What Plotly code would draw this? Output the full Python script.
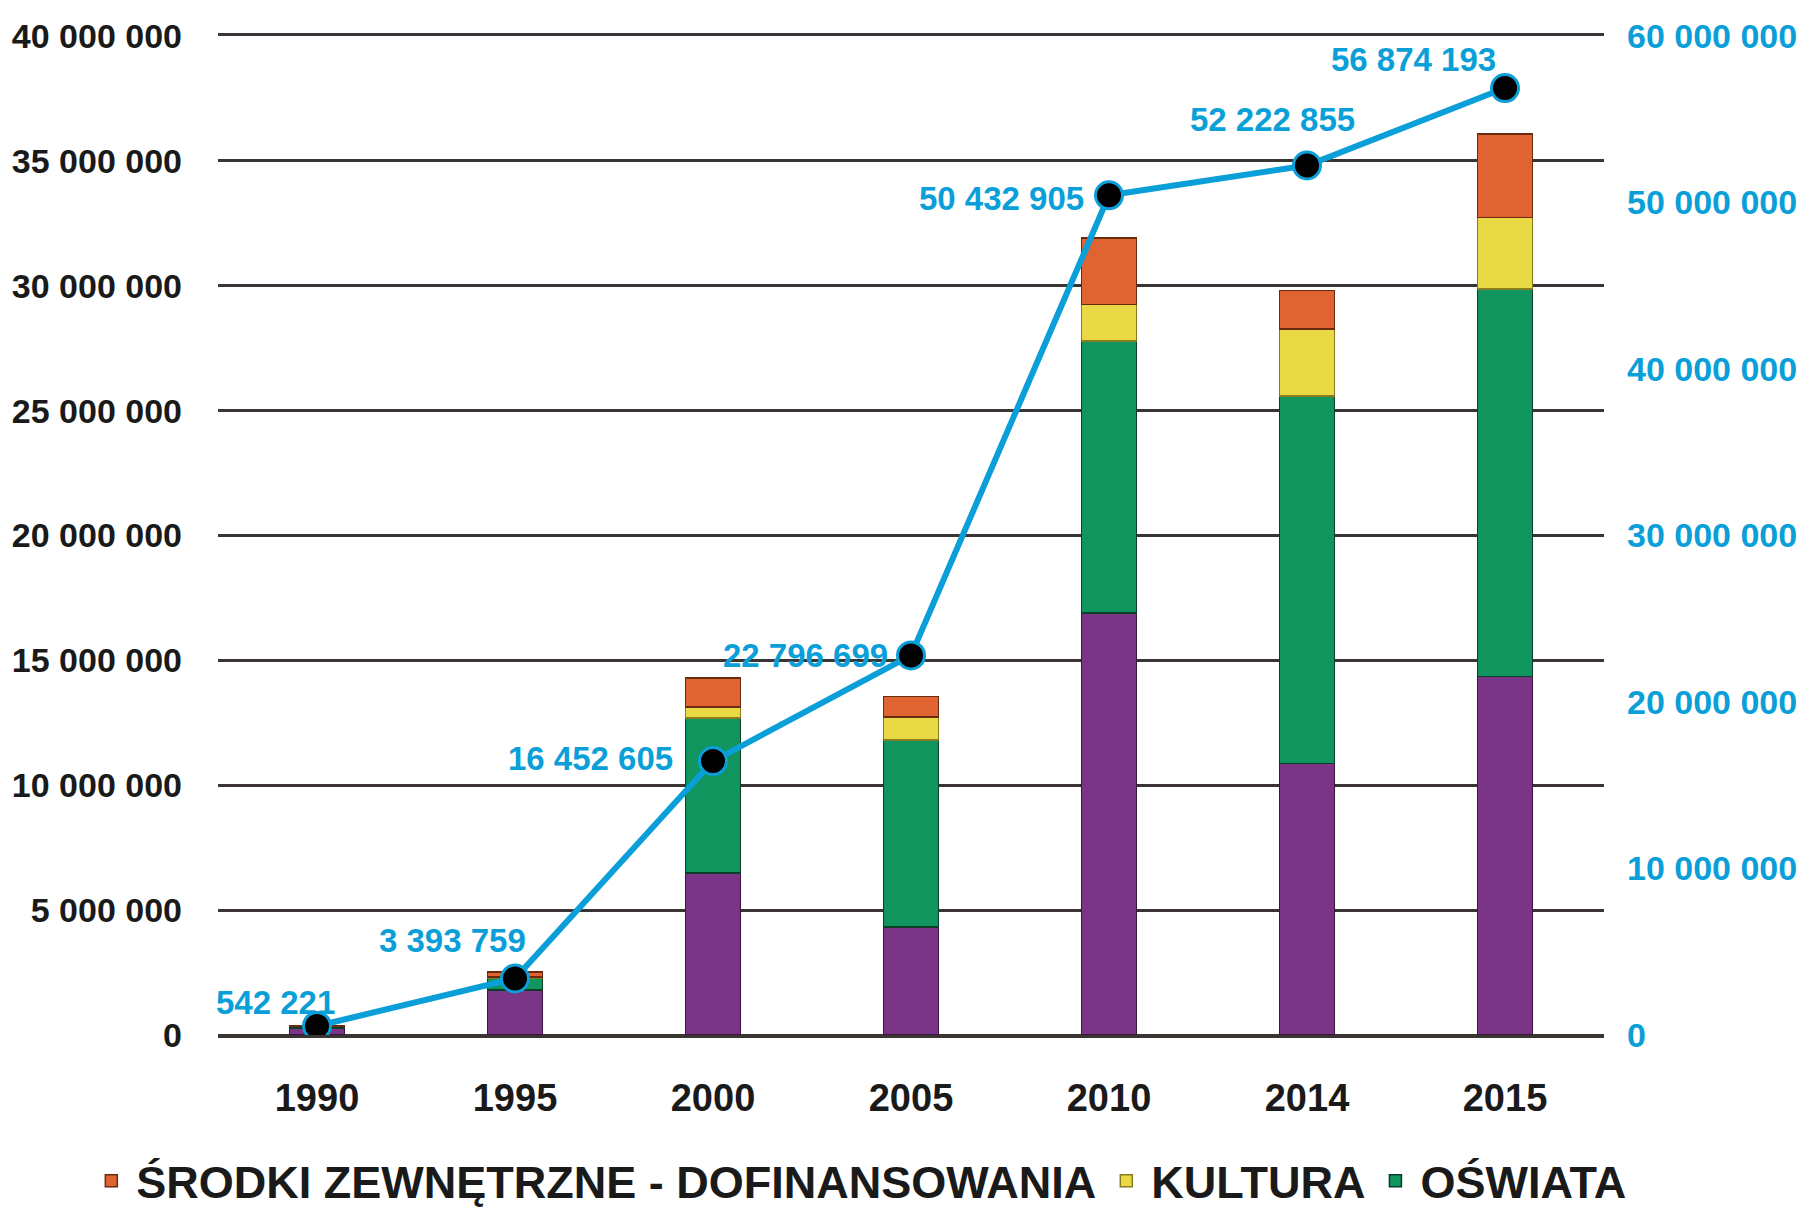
import plotly.graph_objects as go

# ---------------- data ----------------
years = ["1990", "1995", "2000", "2005", "2010", "2014", "2015"]
purple_vals = [280000, 1800000, 6490000, 4320000, 16900000, 10870000, 14360000]
oswiata_vals = [60000, 480000, 6200000, 7490000, 10890000, 14720000, 15510000]
kultura_vals = [10000, 50000, 440000, 920000, 1460000, 2670000, 2870000]
srodki_vals = [10000, 200000, 1170000, 820000, 2670000, 1550000, 3340000]
line_vals = [542221, 3393759, 16452605, 22796699, 50432905, 52222855, 56874193]
line_labels = ["542 221", "3 393 759", "16 452 605", "22 796 699",
               "50 432 905", "52 222 855", "56 874 193"]
label_dx = [20, 13, -38, -21, -23, 50, -7]
label_dy = [23, 38, 3, 0, -3, 46, 29]

left_ticks = [0, 5e6, 10e6, 15e6, 20e6, 25e6, 30e6, 35e6, 40e6]
left_tick_text = ["0", "5 000 000", "10 000 000", "15 000 000", "20 000 000",
                  "25 000 000", "30 000 000", "35 000 000", "40 000 000"]
right_ticks = [0, 10e6, 20e6, 30e6, 40e6, 50e6, 60e6]
right_tick_text = ["0", "10 000 000", "20 000 000", "30 000 000",
                   "40 000 000", "50 000 000", "60 000 000"]

FONT = "Liberation Sans, Arial, sans-serif"
BLUE = "#0a9fd8"
GRID = "#3a3532"
BAR_W = 0.28

fig = go.Figure()
fig.add_trace(go.Bar(x=years, y=purple_vals, name="ADMINISTRACJA", showlegend=False,
                     marker=dict(color="#7a3586", line=dict(color="#3c1440", width=1.5)),
                     width=BAR_W))
fig.add_trace(go.Bar(x=years, y=oswiata_vals, name="OŚWIATA",
                     marker=dict(color="#11955f", line=dict(color="#0b3d28", width=1.5)),
                     width=BAR_W, legendrank=3))
fig.add_trace(go.Bar(x=years, y=kultura_vals, name="KULTURA",
                     marker=dict(color="#e8d945", line=dict(color="#8a7d20", width=1.5)),
                     width=BAR_W, legendrank=2))
fig.add_trace(go.Bar(x=years, y=srodki_vals, name="ŚRODKI ZEWNĘTRZNE - DOFINANSOWANIA",
                     marker=dict(color="#e06432", line=dict(color="#6a2a10", width=1.5)),
                     width=BAR_W, legendrank=1))
fig.add_trace(go.Scatter(x=years, y=line_vals, yaxis="y2", mode="lines+markers",
                         showlegend=False,
                         line=dict(color=BLUE, width=6),
                         marker=dict(color="black", size=27,
                                     line=dict(color=BLUE, width=3))))

for i, (v, t, dx, dy) in enumerate(zip(line_vals, line_labels, label_dx, label_dy)):
    fig.add_annotation(x=i, y=v, xref="x", yref="y2", text=t, showarrow=False,
                       xanchor="right", yanchor="middle", xshift=dx, yshift=dy,
                       font=dict(family=FONT, size=33, color=BLUE, weight="bold"))

fig.update_layout(
    width=1811, height=1229,
    barmode="stack",
    paper_bgcolor="white", plot_bgcolor="white",
    margin=dict(l=210, r=215, t=28, b=202, autoexpand=False),
    font=dict(family=FONT, color="#1a1a1a", weight="bold"),
    xaxis=dict(type="category", range=[-0.5, len(years) - 0.5], autorange=False,
               showgrid=False, showline=True, mirror=True, linecolor=GRID,
               linewidth=2.5, ticks="",
               tickfont=dict(family=FONT, size=38, color="#1a1a1a", weight="bold"),
               ticklabelstandoff=28),
    yaxis=dict(range=[0, 40e6], tickvals=left_ticks, ticktext=left_tick_text,
               showgrid=True, gridcolor=GRID, gridwidth=2.5,
               zeroline=True, zerolinecolor=GRID, zerolinewidth=2.5,
               showline=False, ticks="", ticklabelstandoff=35,
               tickfont=dict(family=FONT, size=34, color="#1a1a1a", weight="bold")),
    yaxis2=dict(range=[0, 60e6], tickvals=right_ticks, ticktext=right_tick_text,
                overlaying="y", side="right", showgrid=False, zeroline=False,
                showline=False, ticks="", ticklabelstandoff=22,
                tickfont=dict(family=FONT, size=34, color=BLUE, weight="bold")),
    legend=dict(orientation="h", x=-0.095, xanchor="left", y=-0.11, yanchor="top",
                font=dict(family=FONT, size=45, color="#1a1a1a", weight="bold"),
                itemwidth=40, traceorder="normal", tracegroupgap=0),
)

fig.write_html("out.html")
